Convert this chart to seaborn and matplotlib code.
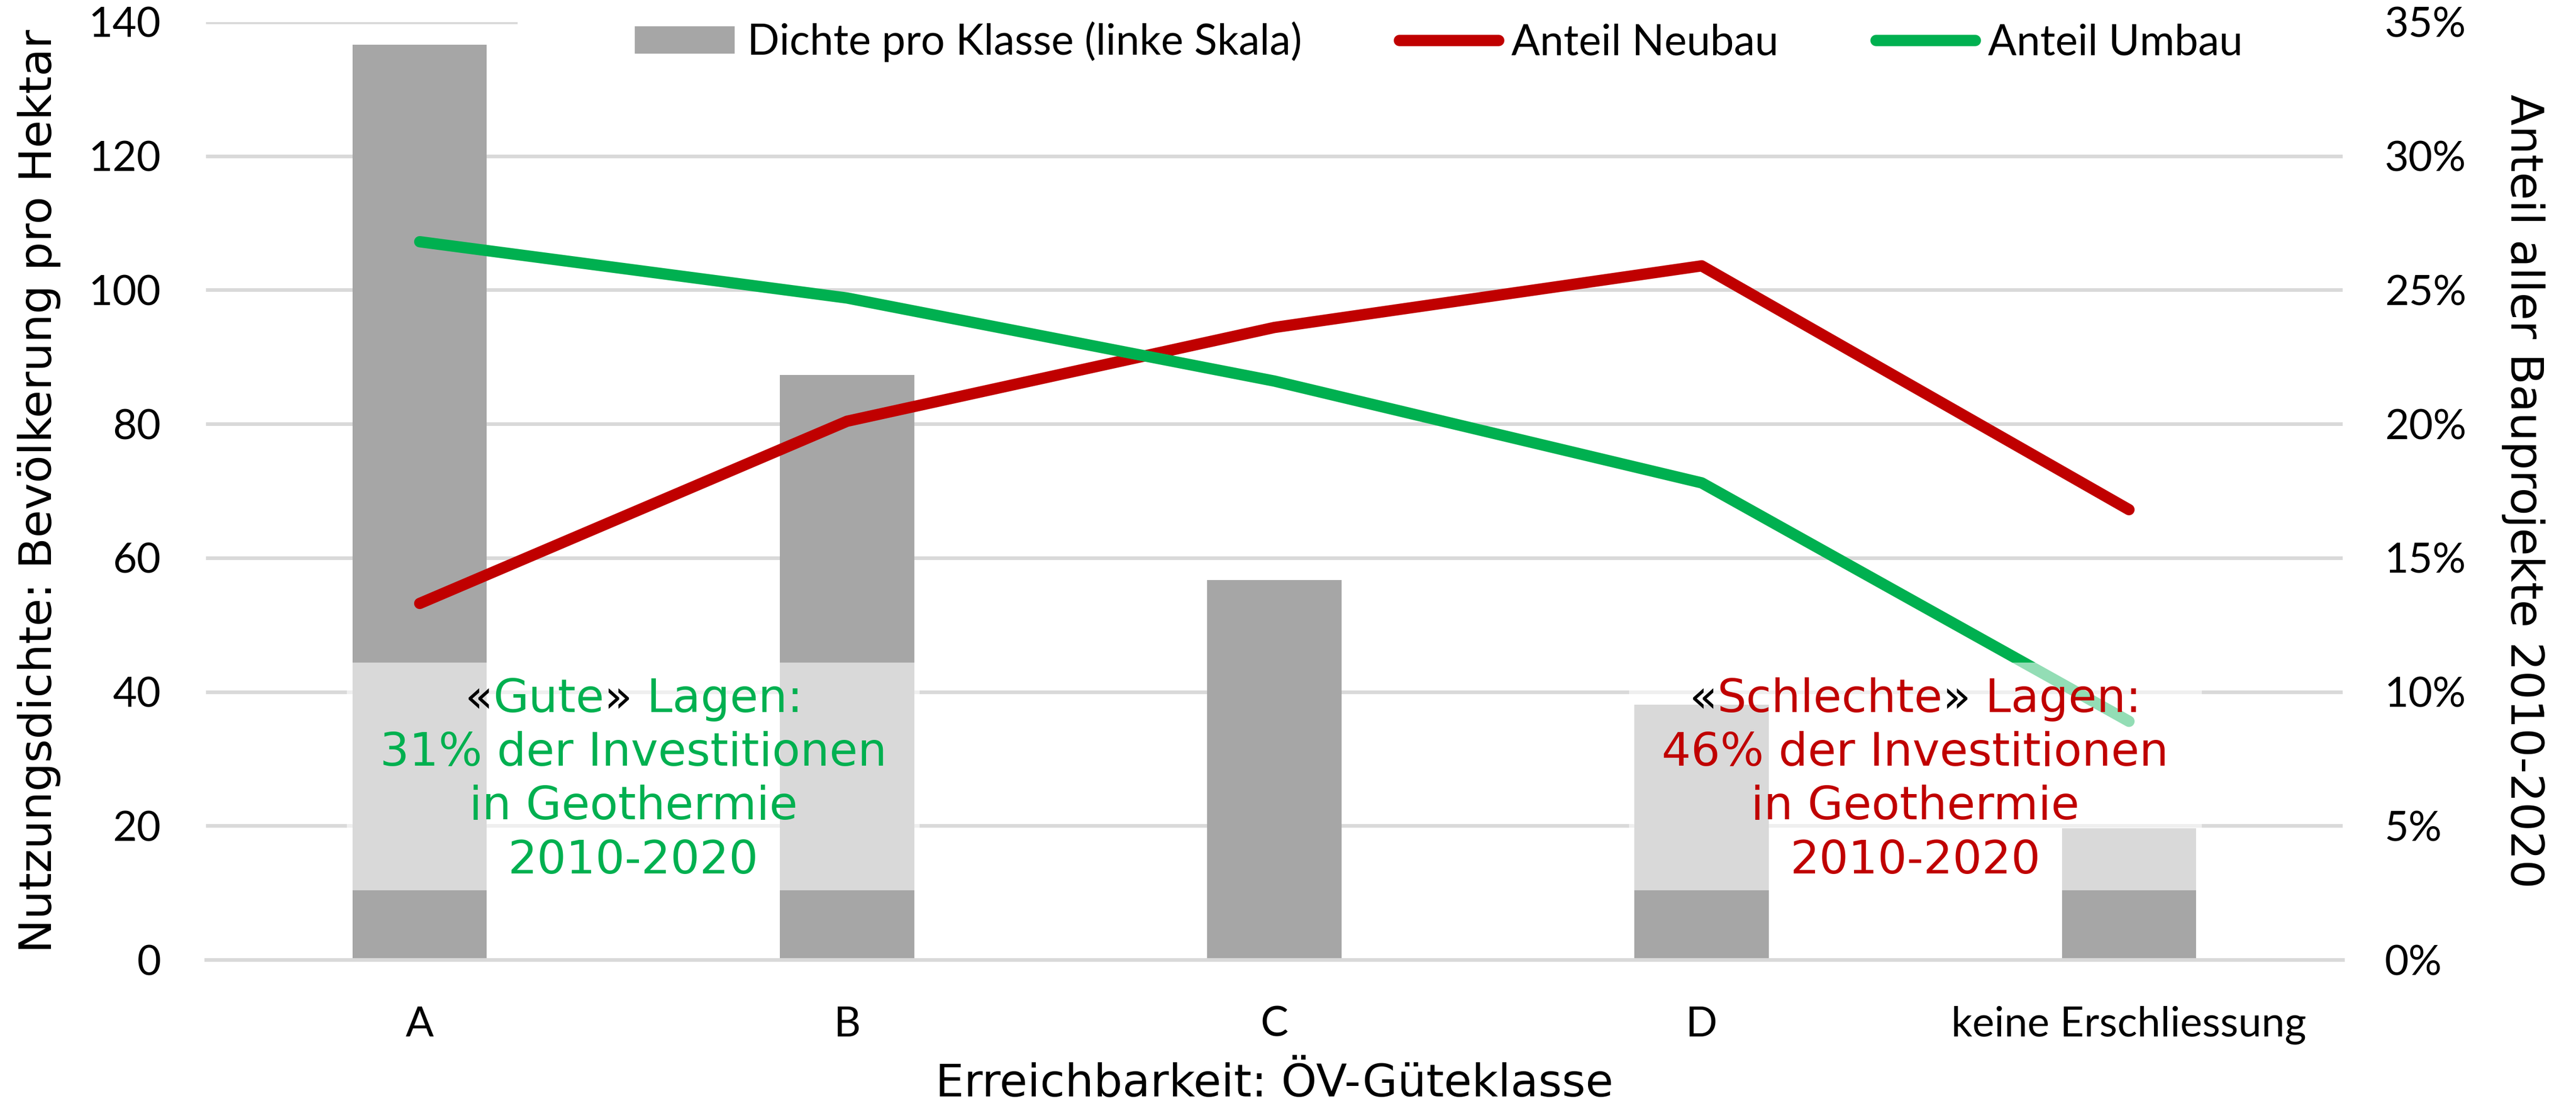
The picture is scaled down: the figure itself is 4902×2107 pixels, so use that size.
import matplotlib
matplotlib.use("Agg")
import numpy as np
import pandas as pd
import matplotlib.pyplot as plt
import seaborn as sns
from matplotlib.patches import Rectangle, Patch
from matplotlib.lines import Line2D
from matplotlib.path import Path
from matplotlib.ticker import MultipleLocator, PercentFormatter

# values
klassen = ["A", "B", "C", "D", "keine Erschliessung"]
dichte = [136.6, 87.3, 56.7, 38.1, 19.6]          # Bevölkerung pro Hektar (linke Skala)
anteil_neubau = [13.3, 20.1, 23.6, 25.9, 16.8]    # % (rechte Skala)
anteil_umbau = [26.8, 24.7, 21.6, 17.8, 8.9]      # %

gute_wort, gute_text = "Gute", ["31% der Investitionen", "in Geothermie", "2010-2020"]
schlecht_wort, schlecht_text = "Schlechte", ["46% der Investitionen", "in Geothermie", "2010-2020"]

GREY = "#a6a6a6"
RED = "#c00000"
GREEN = "#00b050"
GRID = "#d9d9d9"

sns.set_theme(style="white")
plt.rcParams["font.family"] = ["Lato", "DejaVu Sans"]
plt.rcParams["text.color"] = "black"

df = pd.DataFrame({"Klasse": klassen, "Dichte": dichte,
                   "Neubau": np.array(anteil_neubau) / 100,
                   "Umbau": np.array(anteil_umbau) / 100})
pos = np.arange(len(klassen))

fig = plt.figure(figsize=(49.02, 21.07), dpi=100)
ax = fig.add_axes([0.080, 0.1338, 0.8294, 0.8463])

sns.barplot(data=df, x="Klasse", y="Dichte", color=GREY, saturation=1,
            width=0.314, linewidth=0, edgecolor="none", ax=ax)

ax2 = ax.twinx()
sns.lineplot(x=pos, y=df["Neubau"], color=RED, lw=15.5, solid_capstyle="round", ax=ax2)
sns.lineplot(x=pos, y=df["Umbau"], color=GREEN, lw=15.5, solid_capstyle="round", ax=ax2)

# left axis
ax.set_xlim(-0.5, 4.5)
ax.set_ylim(0, 140)
ax.yaxis.set_major_locator(MultipleLocator(20))
ax.grid(axis="y", color=GRID, lw=5)
ax.grid(axis="x", visible=False)
ax.set_axisbelow(True)
for s in ["left", "right", "top"]:
    ax.spines[s].set_visible(False)
ax.spines["bottom"].set_color(GRID)
ax.spines["bottom"].set_linewidth(5)
ax.tick_params(axis="y", length=0, labelsize=57, pad=62, labelcolor="black")
ax.tick_params(axis="x", length=0, labelsize=57, pad=63, labelcolor="black")

ax.set_xlabel("Erreichbarkeit: ÖV-Güteklasse", fontsize=62, fontfamily="DejaVu Sans", color="black")
ax.xaxis.set_label_coords(0.5, -0.109)
ax.set_ylabel("Nutzungsdichte: Bevölkerung pro Hektar", fontsize=62, fontfamily="DejaVu Sans", color="black")
ax.yaxis.set_label_coords(-0.068, 0.5)

# right axis
ax2.set_ylim(0, 0.35)
ax2.set_xlim(-0.5, 4.5)
ax2.yaxis.set_major_locator(MultipleLocator(0.05))
ax2.yaxis.set_major_formatter(PercentFormatter(1, decimals=0))
ax2.grid(False)
for s in ax2.spines.values():
    s.set_visible(False)
ax2.tick_params(axis="y", length=0, labelsize=57, pad=57.6, labelcolor="black")
ax2.set_ylabel("Anteil aller Bauprojekte 2010-2020", rotation=270, va="bottom",
               fontsize=62, fontfamily="DejaVu Sans", color="black")
ax2.yaxis.set_label_coords(1.0743, 0.5)

renderer = fig.canvas.get_renderer()


def note(cx, wort, zeilen, color):
    # half transparent white text box, as in the Excel chart
    ax2.add_patch(Rectangle((cx - 0.67, 10.4), 1.34, 34.0, transform=ax.transData,
                            facecolor="white", edgecolor="none", alpha=0.58, zorder=5))
    kw = dict(fontsize=63, fontfamily="DejaVu Sans", zorder=6)
    parts = [("«", "black"), (wort, color), ("»", "black"), (" Lagen:", color)]
    # measure the whole first line once so the coloured pieces end up centred
    tmp = ax2.text(0, 0, "".join(p for p, _ in parts), **kw)
    w_pt = tmp.get_window_extent(renderer).width * 72 / fig.dpi
    tmp.remove()
    prev = None
    for txt, c in parts:
        if prev is None:
            prev = ax2.annotate(txt, xy=(cx, 37.0), xycoords=ax.transData,
                                xytext=(-w_pt / 2, 0), textcoords="offset points",
                                ha="left", va="baseline", color=c, **kw)
        else:
            prev = ax2.annotate(txt, xy=(1, 0), xycoords=prev, ha="left", va="bottom", color=c, **kw)
    for i, line in enumerate(zeilen):
        ax2.text(cx, 29.0 - i * 8.05, line, transform=ax.transData,
                 ha="center", va="baseline", color=color, **kw)


note(0.5, gute_wort, gute_text, GREEN)
note(3.5, schlecht_wort, schlecht_text, RED)

# legend
handles = [Patch(facecolor=GREY, edgecolor="none", label="Dichte pro Klasse (linke Skala)"),
           Line2D([], [], color=RED, lw=15.5, solid_capstyle="round", label="Anteil Neubau"),
           Line2D([], [], color=GREEN, lw=15.5, solid_capstyle="round", label="Anteil Umbau")]
leg = ax2.legend(handles=handles, ncol=3, loc="center", bbox_to_anchor=(0.577, 0.979),
                 fontsize=58, frameon=True, fancybox=False, framealpha=1,
                 facecolor="white", edgecolor="none", borderaxespad=0,
                 handlelength=2.35, handleheight=0.62, handletextpad=0.3, columnspacing=2.3)
leg.set_zorder(7)
for t in leg.get_texts():
    t.set_color("black")


def wide_frame(x0, y0, width, height, mutation_size):
    # Excel's legend box spans from ~15% of the plot to its right edge
    left = ax.transAxes.transform((0.1458, 0))[0]
    right = ax.transAxes.transform((1.0, 0))[0]
    return Path([(left, y0), (right, y0), (right, y0 + height), (left, y0 + height), (left, y0)],
                closed=True)


leg.get_frame().set_boxstyle(wide_frame)

fig.savefig("out.png", dpi=100, facecolor="white")
